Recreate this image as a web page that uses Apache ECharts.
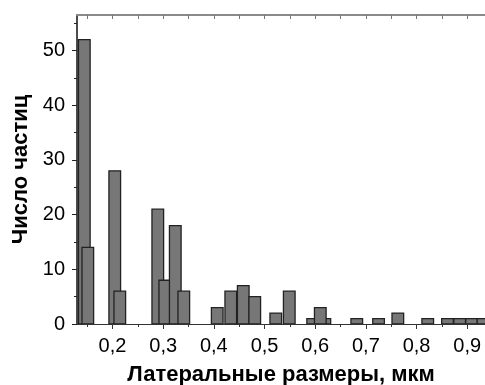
<!DOCTYPE html>
<html>
<head>
<meta charset="utf-8">
<script src="https://cdn.jsdelivr.net/npm/echarts@6/dist/echarts.min.js"></script>
<style>
  html, body { margin: 0; padding: 0; background: #fff; }
  #chart { width: 485px; height: 385px; }
</style>
</head>
<body>
<div id="chart"></div>
<script>
// Histogram of particle lateral sizes (µm) vs particle count
const binWidth = 0.023;
const binCenters = [0.1444, 0.1513, 0.2045, 0.2144, 0.2894, 0.3032, 0.3239, 0.3407,
                    0.4067, 0.4334, 0.4580, 0.4807, 0.5222, 0.5488, 0.595, 0.619, 0.610,
                    0.682, 0.725, 0.763, 0.822, 0.861, 0.885, 0.9085, 0.931];
const counts     = [52, 14, 28, 6, 21, 8, 18, 6,
                    3, 6, 7, 5, 2, 6, 1, 1, 3,
                    1, 1, 2, 1, 1, 1, 1, 1];

const xMajorTicks = [0.2, 0.3, 0.4, 0.5, 0.6, 0.7, 0.8, 0.9];
const xMinorTicks = [0.15, 0.25, 0.35, 0.45, 0.55, 0.65, 0.75, 0.85];
const yMajorTicks = [0, 10, 20, 30, 40, 50];
const yMinorTicks = [5, 15, 25, 35, 45, 55];

const xMin = 0.13, xMax = 0.935;
const yMin = 0, yMax = 56.5;

const font = 'Liberation Sans, Arial, sans-serif';
const comma = v => String(Math.round(v * 10) / 10).replace('.', ',');

const bins = binCenters.map((c, i) => [c, counts[i]]);

const chart = echarts.init(document.getElementById('chart'), null, { renderer: 'canvas' });
chart.setOption({
  animation: false,
  backgroundColor: '#fff',
  grid: { left: 77, top: 15, right: 0, bottom: 61, outerBoundsMode: 'none', containLabel: false },
  xAxis: [
    {
      type: 'value', position: 'bottom', min: xMin, max: xMax,
      name: 'Латеральные размеры, мкм', nameLocation: 'middle', nameGap: 40,
      nameTextStyle: { fontFamily: font, fontWeight: 'bold', fontSize: 22, color: '#000' },
      axisLine: { show: true, lineStyle: { color: '#333', width: 1.2 } },
      axisTick: { show: true, inside: false, length: 5, customValues: xMajorTicks,
                  lineStyle: { color: '#333', width: 1 } },
      axisLabel: { show: true, customValues: xMajorTicks, margin: 12, formatter: comma,
                   fontFamily: font, fontSize: 20, color: '#000' },
      splitLine: { show: false }
    },
    {
      type: 'value', position: 'bottom', min: xMin, max: xMax,
      axisLine: { show: false },
      axisTick: { show: true, inside: false, length: 3, customValues: xMinorTicks,
                  lineStyle: { color: '#333', width: 1 } },
      axisLabel: { show: false },
      splitLine: { show: false }
    },
    {
      type: 'value', position: 'top', min: xMin, max: xMax,
      axisLine: { show: true, lineStyle: { color: '#8a8a8a', width: 2 } },
      axisTick: { show: true, inside: true, length: 4,
                  customValues: xMajorTicks.concat(xMinorTicks),
                  lineStyle: { color: '#777', width: 1 } },
      axisLabel: { show: false },
      splitLine: { show: false }
    }
  ],
  yAxis: [
    {
      type: 'value', position: 'left', min: yMin, max: yMax,
      name: 'Число частиц', nameLocation: 'middle', nameGap: 44, nameRotate: 90,
      nameTextStyle: { fontFamily: font, fontWeight: 'bold', fontSize: 22, color: '#000' },
      axisLine: { show: true, lineStyle: { color: '#111', width: 1.5 } },
      axisTick: { show: true, inside: false, length: 5, customValues: yMajorTicks,
                  lineStyle: { color: '#222', width: 1 } },
      axisLabel: { show: true, customValues: yMajorTicks, margin: 12,
                   fontFamily: font, fontSize: 20, color: '#000' },
      splitLine: { show: false }
    },
    {
      type: 'value', position: 'left', min: yMin, max: yMax,
      axisLine: { show: false },
      axisTick: { show: true, inside: false, length: 3, customValues: yMinorTicks,
                  lineStyle: { color: '#222', width: 1 } },
      axisLabel: { show: false },
      splitLine: { show: false }
    }
  ],
  series: [
    {
      type: 'custom',
      xAxisIndex: 0, yAxisIndex: 0,
      clip: true,
      data: bins,
      renderItem: function (params, api) {
        const c = api.value(0), n = api.value(1);
        const p0 = api.coord([c - binWidth / 2, n]);
        const p1 = api.coord([c + binWidth / 2, 0]);
        return {
          type: 'rect',
          shape: { x: p0[0], y: p0[1], width: p1[0] - p0[0], height: p1[1] - p0[1] },
          style: { fill: '#777777', stroke: '#222222', lineWidth: 1.3 }
        };
      }
    }
  ]
});
</script>
</body>
</html>
